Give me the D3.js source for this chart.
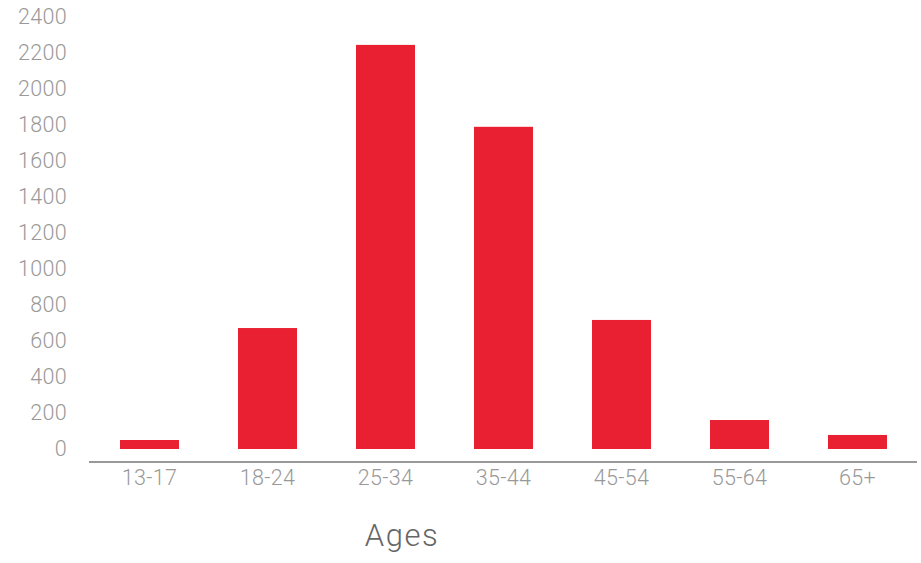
<!DOCTYPE html>
<html>
<head>
<meta charset="utf-8">
<script src="https://d3js.org/d3.v7.min.js"></script>
<style>
  html, body { margin: 0; padding: 0; background: #fff; }
  svg { display: block; }
  text { font-family: "Helvetica Neue", Roboto, "Liberation Sans", sans-serif; }
</style>
</head>
<body>
<script>
const categories = ["13-17", "18-24", "25-34", "35-44", "45-54", "55-64", "65+"];
const values = [50, 672, 2245, 1790, 717, 161, 78];
const yTicks = [0, 200, 400, 600, 800, 1000, 1200, 1400, 1600, 1800, 2000, 2200, 2400];
const xTitle = "Ages";

const W = 921, H = 563;
const svg = d3.select("body").append("svg").attr("width", W).attr("height", H);

const x = d3.scaleBand().domain(categories).range([90.5, 916.5])
  .paddingInner(0.5).paddingOuter(0.25);
const y = d3.scaleLinear().domain([0, 2400]).range([449, 17]);

// bars
svg.append("g").selectAll("rect").data(values).join("rect")
  .attr("x", (d, i) => x(categories[i]))
  .attr("width", x.bandwidth())
  .attr("y", d => y(d))
  .attr("height", d => y(0) - y(d))
  .attr("fill", "#e82031");

const fontFam = "'Helvetica Neue', Roboto, 'Liberation Sans', sans-serif";

// y axis (labels only)
const yAxis = svg.append("g").attr("transform", "translate(67,0)")
  .call(d3.axisLeft(y).tickValues(yTicks).tickSize(0).tickPadding(0).tickFormat(d3.format("d")));
yAxis.select(".domain").remove();
yAxis.selectAll("text").attr("fill", "#999").attr("font-size", 21.5)
  .attr("font-weight", 300).attr("letter-spacing", 0.3).style("font-family", fontFam);

// x axis
const xAxis = svg.append("g").attr("transform", "translate(0,462)")
  .call(d3.axisBottom(x).tickSize(0).tickPadding(8));
xAxis.select(".domain").attr("stroke", "#999").attr("stroke-width", 2).attr("d", "M89,0H917");
xAxis.selectAll("text").attr("fill", "#999").attr("font-size", 21.5)
  .attr("font-weight", 300).attr("letter-spacing", 0.3).style("font-family", fontFam);

// title
svg.append("text").attr("x", 402).attr("y", 546).attr("text-anchor", "middle")
  .attr("font-size", 31).attr("font-weight", 300).attr("letter-spacing", 1.5)
  .attr("fill", "#666").text(xTitle);
</script>
</body>
</html>
